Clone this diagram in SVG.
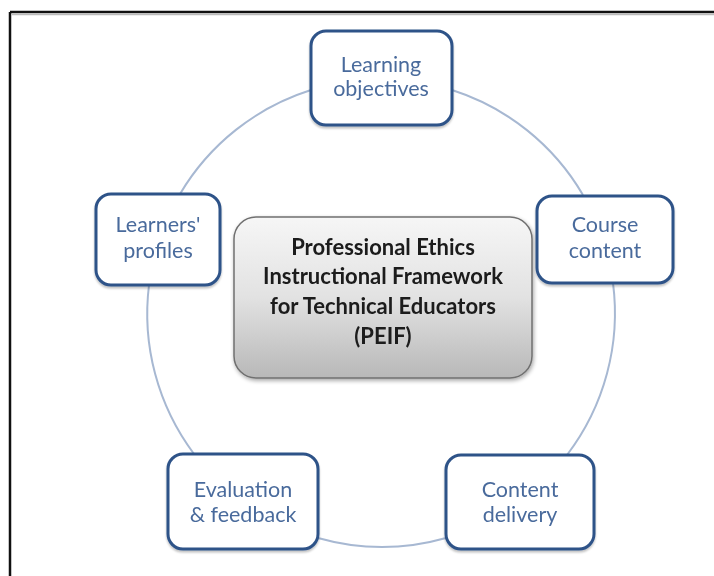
<svg xmlns="http://www.w3.org/2000/svg" width="714" height="576" viewBox="0 0 714 576">
  <defs>
    <linearGradient id="centerGrad" x1="0" y1="0" x2="0" y2="1">
      <stop offset="0" stop-color="#f6f6f6"/>
      <stop offset="0.5" stop-color="#e2e2e2"/>
      <stop offset="1" stop-color="#b8b8b8"/>
    </linearGradient>
    <filter id="shadow" x="-10%" y="-10%" width="125%" height="130%">
      <feGaussianBlur in="SourceAlpha" stdDeviation="2"/>
      <feOffset dx="1" dy="2" result="b"/>
      <feComponentTransfer><feFuncA type="linear" slope="0.35"/></feComponentTransfer>
      <feMerge><feMergeNode/><feMergeNode in="SourceGraphic"/></feMerge>
    </filter>
    <filter id="nshadow" x="-10%" y="-10%" width="125%" height="130%">
      <feGaussianBlur in="SourceAlpha" stdDeviation="1.2"/>
      <feOffset dx="0" dy="1.5" result="b"/>
      <feComponentTransfer><feFuncA type="linear" slope="0.25"/></feComponentTransfer>
      <feMerge><feMergeNode/><feMergeNode in="SourceGraphic"/></feMerge>
    </filter>
  </defs>
  <style>
    .node rect { fill: #ffffff; stroke: #2d5288; stroke-width: 3; }
    .node text { font-family: "Lato", "Liberation Sans", sans-serif; font-size: 21.5px; fill: #4a6b9c; text-anchor: middle; }
    .conn { fill: none; stroke: #a7b8d2; stroke-width: 2; }
    .center rect { fill: url(#centerGrad); stroke: #707070; stroke-width: 1.5; }
    .center text { font-family: "Lato", "Liberation Sans", sans-serif; font-weight: bold; font-size: 22px; fill: #1a1a1a; text-anchor: middle; }
  </style>
  <rect x="0" y="0" width="714" height="576" fill="#ffffff"/>
  <g id="frame">
    <line x1="10" y1="12" x2="714" y2="12" stroke="#111" stroke-width="2.5"/>
    <line x1="10" y1="12" x2="10" y2="576" stroke="#111" stroke-width="2.5"/>
    <line x1="12" y1="14.5" x2="714" y2="14.5" stroke="#bbb" stroke-width="1.5"/>
  </g>
  <g id="connectors">
    <path class="conn" d="M452,90 A234,234 0 0 1 583,195"/>
    <path class="conn" d="M613,283 A234,234 0 0 1 567,455"/>
    <path class="conn" d="M446,538 A234,234 0 0 1 318,538"/>
    <path class="conn" d="M194,454 A234,234 0 0 1 149,285"/>
    <path class="conn" d="M180,194 A234,234 0 0 1 311,90"/>
  </g>
  <g id="center" class="center" filter="url(#shadow)">
    <rect x="234" y="217" width="298" height="161" rx="22" ry="22"/>
    <text x="383" y="255">Professional Ethics</text>
    <text x="383" y="284">Instructional Framework</text>
    <text x="383" y="314">for Technical Educators</text>
    <text x="383" y="344">(PEIF)</text>
  </g>
  <g id="learning-objectives" class="node" filter="url(#nshadow)">
    <rect x="311" y="31" width="141" height="94" rx="15" ry="15"/>
    <text x="381" y="72">Learning</text>
    <text x="381" y="96">objectives</text>
  </g>
  <g id="course-content" class="node" filter="url(#nshadow)">
    <rect x="537" y="196" width="136" height="87" rx="15" ry="15"/>
    <text x="605" y="232">Course</text>
    <text x="605" y="258">content</text>
  </g>
  <g id="content-delivery" class="node" filter="url(#nshadow)">
    <rect x="446" y="455" width="148" height="94" rx="15" ry="15"/>
    <text x="520" y="497">Content</text>
    <text x="520" y="522">delivery</text>
  </g>
  <g id="evaluation-feedback" class="node" filter="url(#nshadow)">
    <rect x="168" y="454" width="150" height="95" rx="15" ry="15"/>
    <text x="243" y="497">Evaluation</text>
    <text x="243" y="522">&amp; feedback</text>
  </g>
  <g id="learners-profiles" class="node" filter="url(#nshadow)">
    <rect x="96" y="194" width="124" height="91" rx="15" ry="15"/>
    <text x="158" y="232">Learners'</text>
    <text x="158" y="258">profiles</text>
  </g>
</svg>
